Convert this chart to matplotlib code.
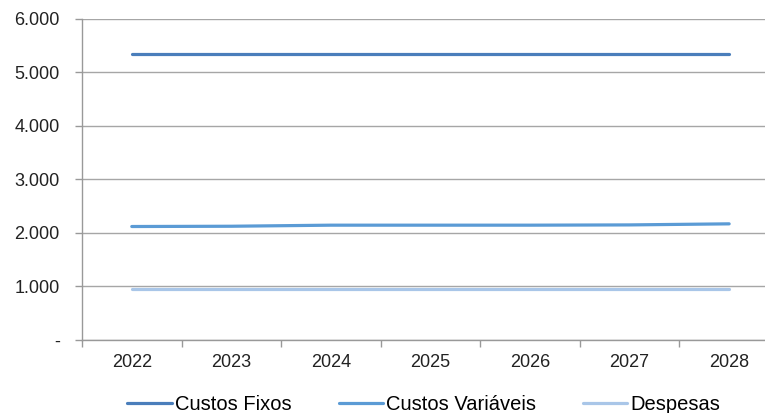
import matplotlib.pyplot as plt
from matplotlib.ticker import FuncFormatter

plt.rcParams['font.family'] = ['Liberation Sans', 'DejaVu Sans']

anos = ['2022', '2023', '2024', '2025', '2026', '2027', '2028']
custos_fixos = [5345, 5345, 5345, 5345, 5345, 5345, 5345]
custos_variaveis = [2120, 2125, 2145, 2145, 2145, 2150, 2170]
despesas = [950, 950, 950, 950, 950, 950, 950]

cores = ['#4a7ebb', '#5b9bd5', '#a9c6e8']

fig = plt.figure(figsize=(7.65, 4.13), dpi=100)
ax = fig.add_axes([0.1072, 0.177, 0.911, 0.777])

x = range(len(anos))
ax.plot(x, custos_fixos, color=cores[0], lw=2.3, label='Custos Fixos', solid_capstyle='round')
ax.plot(x, custos_variaveis, color=cores[1], lw=2.3, label='Custos Variáveis', solid_capstyle='round')
ax.plot(x, despesas, color=cores[2], lw=2.3, label='Despesas', solid_capstyle='round')

ax.set_xlim(-0.5, len(anos) - 0.5)
ax.set_ylim(0, 6000)
ax.set_yticks(range(0, 6001, 1000))
ax.yaxis.set_major_formatter(FuncFormatter(
    lambda v, p: '-' if v == 0 else f'{int(v):,}'.replace(',', '.')))
ax.set_xticks(list(x))
ax.set_xticklabels(anos)
ax.set_xticks([i + 0.5 for i in range(-1, len(anos))], minor=True)
ax.tick_params(axis='x', which='major', length=0, pad=10, labelsize=13, labelcolor='#222222')
ax.tick_params(axis='x', which='minor', length=5, color='#999999', width=1)
ax.tick_params(axis='y', length=5, color='#999999', width=1, pad=11, labelsize=13, labelcolor='#222222')

ax.grid(axis='y', color='#a6a6a6', lw=1)
ax.set_axisbelow(True)
for s in ['top', 'right']:
    ax.spines[s].set_visible(False)
for s in ['left', 'bottom']:
    ax.spines[s].set_color('#999999')
    ax.spines[s].set_linewidth(1)

fig.legend(loc='center', bbox_to_anchor=(0.554, 0.021), ncol=3, frameon=False,
           fontsize=14.5, handlelength=2.2, handletextpad=0.15, columnspacing=2.35)

fig.savefig('out.png', dpi=100)
